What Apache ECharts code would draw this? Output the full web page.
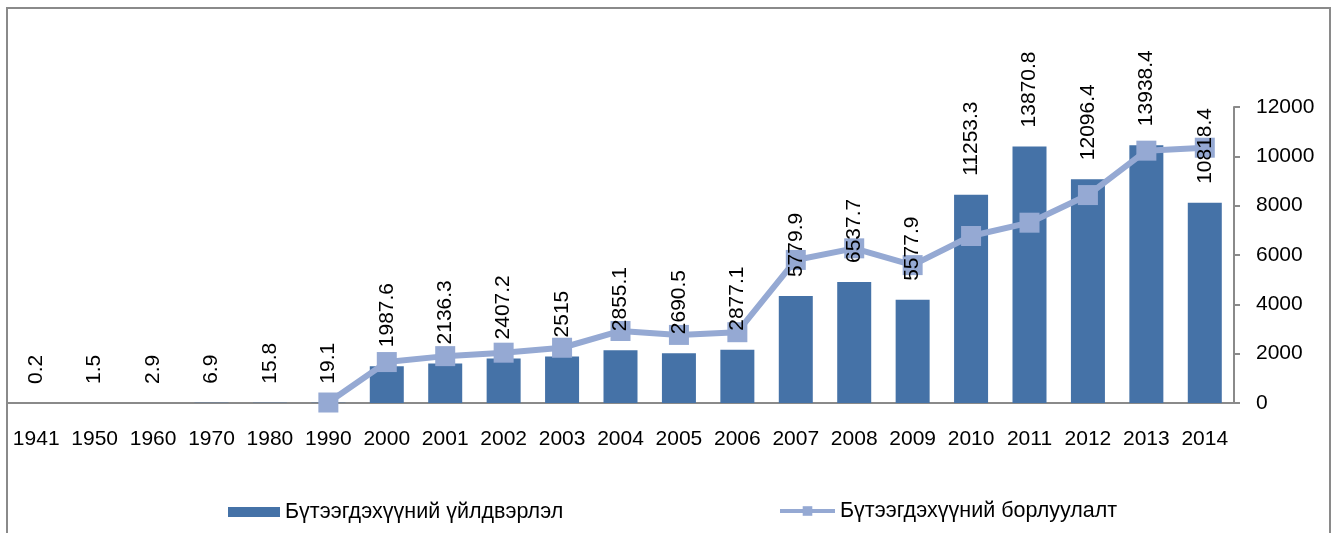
<!DOCTYPE html>
<html lang="mn">
<head>
<meta charset="UTF-8" />
<script src="https://cdn.jsdelivr.net/npm/echarts@6/dist/echarts.min.js"></script>
<style>
  html, body { margin: 0; padding: 0; background: #fff; }
  #main { width: 1338px; height: 533px; }
</style>
</head>
<body>
<div id="main"></div>
<script type="text/javascript">
// он
var years = ['1941','1950','1960','1970','1980','1990','2000','2001','2002','2003','2004',
             '2005','2006','2007','2008','2009','2010','2011','2012','2013','2014'];
// үйлдвэрлэл (баганa, далд тэнхлэг 0-16000)
var production = [0.2, 1.5, 2.9, 6.9, 15.8, 19.1, 1987.6, 2136.3, 2407.2, 2515, 2855.1,
                  2690.5, 2877.1, 5779.9, 6537.7, 5577.9, 11253.3, 13870.8, 12096.4, 13938.4, 10818.4];
// борлуулалт (шугам, баруун тэнхлэг 0-12000)
var sales = [null, null, null, null, null, 20, 1660, 1900, 2040, 2240, 2920,
             2760, 2870, 5800, 6270, 5590, 6770, 7310, 8430, 10230, 10350];
var rightTicks = [0, 2000, 4000, 6000, 8000, 10000, 12000];

var names = ['Бүтээгдэхүүний үйлдвэрлэл', 'Бүтээгдэхүүний борлуулалт'];
var font = 'Liberation Sans, Arial, sans-serif';

var myChart = echarts.init(document.getElementById('main'));
myChart.setOption({
  animation: false,
  textStyle: { fontFamily: font },
  graphic: [{
    type: 'rect',
    shape: { x: 7, y: 8, width: 1323, height: 600 },
    style: { fill: 'none', stroke: '#8a8a8a', lineWidth: 2 },
    silent: true
  }],
  legend: [{
    data: [names[0]],
    left: 228, top: 501, padding: 0,
    itemWidth: 52, itemHeight: 10, itemGap: 5,
    icon: 'rect',
    textStyle: { fontSize: 21.5, color: '#000', fontFamily: font }
  }, {
    data: [names[1]],
    left: 778, top: 500, padding: 0,
    itemWidth: 55, itemHeight: 12, itemGap: 5,
    lineStyle: { width: 4 },
    textStyle: { fontSize: 21.5, color: '#000', fontFamily: font }
  }],
  grid: { left: 7, right: 104, top: 107, bottom: 130, containLabel: false },
  xAxis: {
    type: 'category',
    data: years,
    boundaryGap: true,
    axisLine: { show: true, lineStyle: { color: '#8a8a8a', width: 2 } },
    axisTick: { show: false },
    axisLabel: { color: '#000', fontSize: 21, margin: 26, interval: 0, fontFamily: font }
  },
  yAxis: [{
    type: 'value', min: 0, max: 16000, show: false, splitLine: { show: false }
  }, {
    type: 'value', position: 'right', min: rightTicks[0],
    max: rightTicks[rightTicks.length - 1], interval: 2000,
    axisLine: { show: true, lineStyle: { color: '#8a8a8a', width: 2 } },
    axisTick: { show: true, length: 6, lineStyle: { color: '#8a8a8a', width: 2 } },
    splitLine: { show: false },
    axisLabel: {
      color: '#000', fontSize: 21, margin: 22, fontFamily: font,
      formatter: function (v) { return String(v); }
    }
  }],
  series: [{
    name: names[0],
    type: 'bar',
    yAxisIndex: 0,
    data: production,
    barWidth: 34,
    itemStyle: { color: '#4572A7' },
    z: 2
  }, {
    name: names[1],
    type: 'line',
    yAxisIndex: 1,
    data: sales,
    symbol: 'rect',
    symbolSize: 20,
    itemStyle: { color: '#95A9D3' },
    lineStyle: { color: '#95A9D3', width: 6 },
    z: 3
  }, {
    // data labels of the bars, drawn above the line like in Excel
    name: 'labels',
    type: 'bar',
    yAxisIndex: 0,
    data: production,
    barWidth: 34,
    barGap: '-100%',
    itemStyle: { color: 'rgba(0,0,0,0)' },
    silent: true,
    label: {
      show: true, position: 'top', rotate: 90, distance: 19,
      align: 'left', verticalAlign: 'middle',
      color: '#000', fontSize: 21, fontFamily: font
    },
    z: 4
  }]
});
</script>
</body>
</html>
